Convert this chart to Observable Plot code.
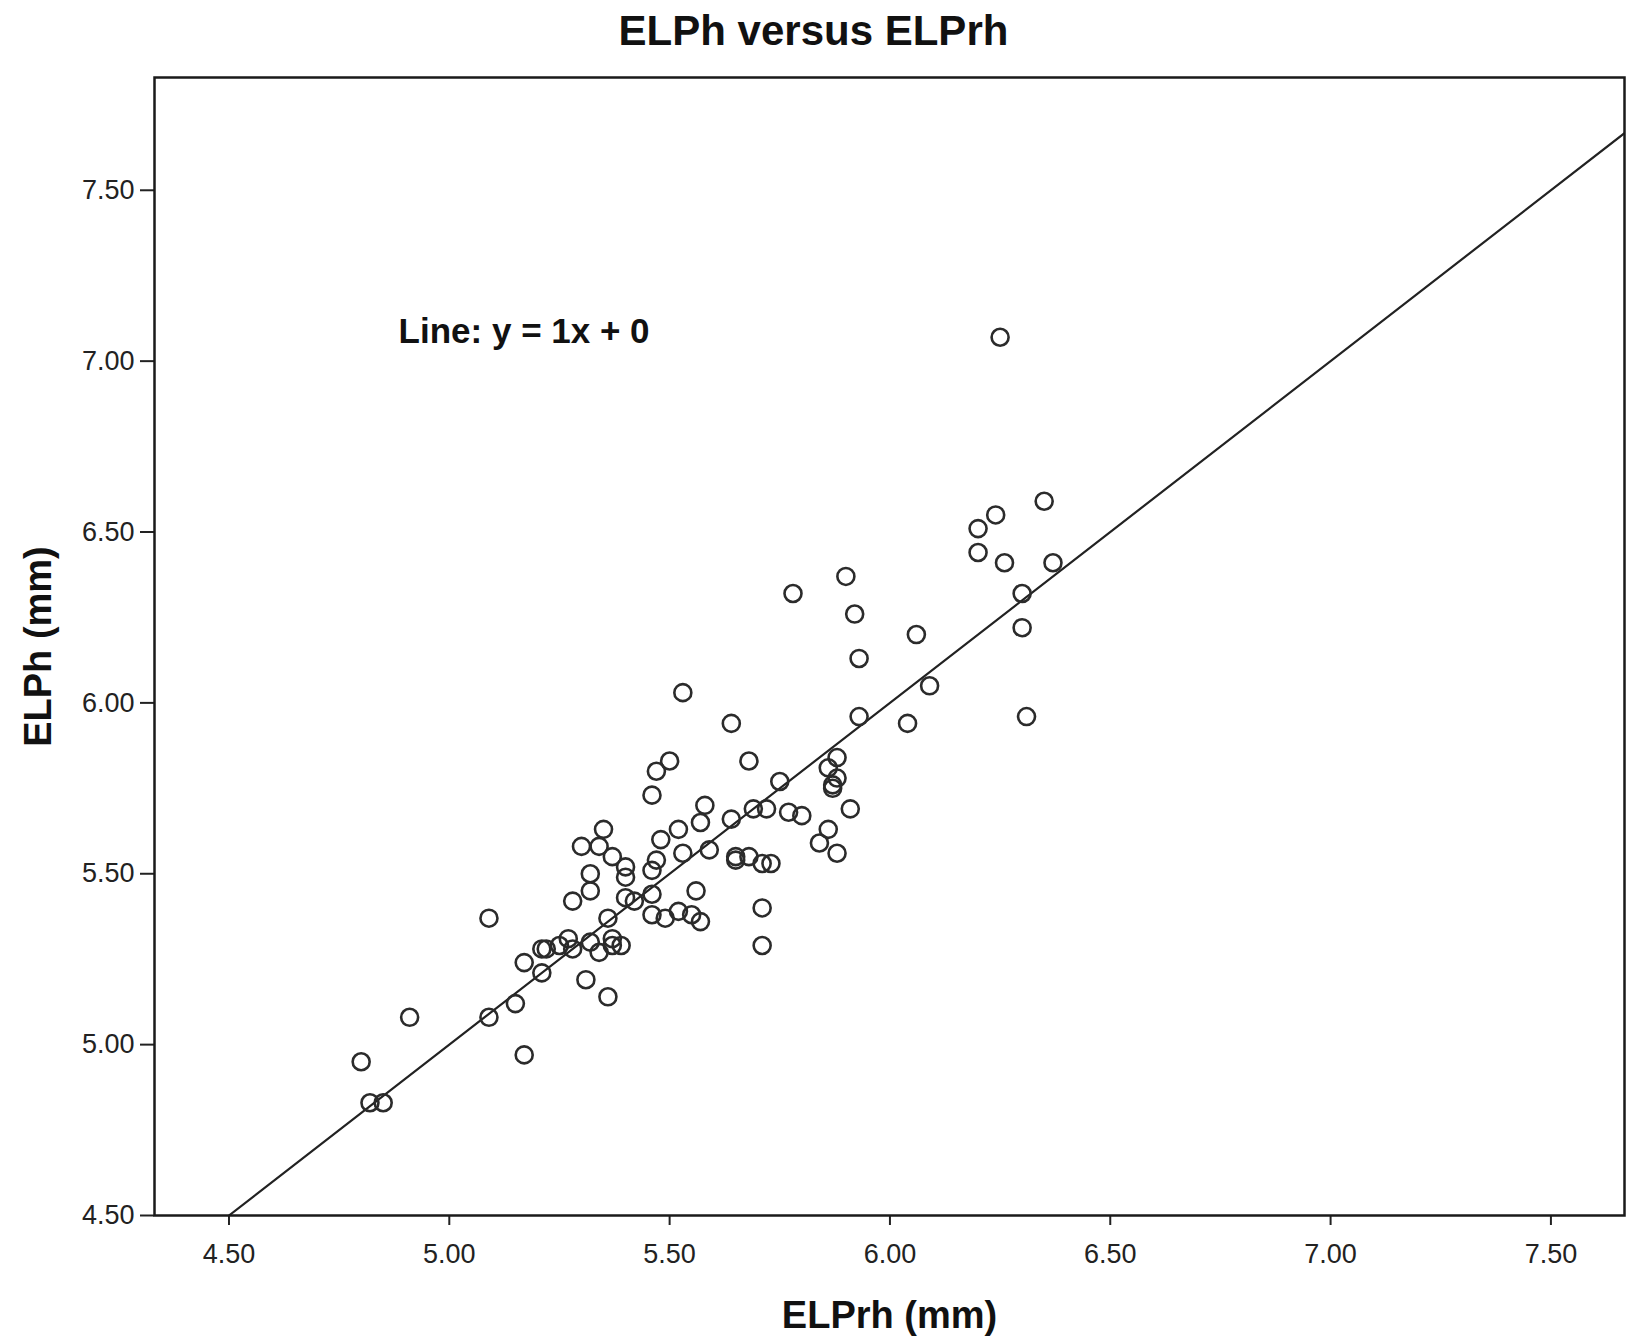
<!DOCTYPE html>
<html>
<head>
<meta charset="utf-8">
<script src="https://cdn.jsdelivr.net/npm/d3@7"></script>
<script src="https://cdn.jsdelivr.net/npm/@observablehq/plot@0.6"></script>
<style>
  html, body { margin: 0; padding: 0; background: #fff; }
  #title { height: 60px; padding-top: 10px; text-align: center; font-family: "Liberation Sans", Arial, sans-serif; font-weight: bold; font-size: 42px; line-height: 42px; color: #111; width: 1627px; }
  #chart svg { display: block; }
</style>
</head>
<body>
<div id="title">ELPh versus ELPrh</div>
<div id="chart"></div>
<script>
const titleText = "ELPh versus ELPrh";
const xLabel = "ELPrh (mm)";
const yLabel = "ELPh (mm)";
const lineLabel = "Line: y = 1x + 0";

// ELPrh (x) values
const elprh = [6.25, 6.35, 6.24, 6.20, 6.20, 6.26, 6.37, 5.90, 5.78, 6.30,
  5.92, 6.30, 6.06, 5.93, 6.09, 5.53, 6.31, 5.93, 5.64, 6.04,
  5.50, 5.68, 5.47, 5.88, 5.86, 5.88, 5.87, 5.87, 5.75, 5.46,
  5.58, 5.69, 5.72, 5.77, 5.80, 5.91, 5.64, 5.57, 5.35, 5.52,
  5.86, 5.48, 5.30, 5.34, 5.84, 5.59, 5.88, 5.37, 5.53, 5.65,
  5.65, 5.68, 5.47, 5.71, 5.73, 5.40, 5.32, 5.46, 5.40, 5.32,
  5.46, 5.56, 5.28, 5.40, 5.42, 5.71, 5.46, 5.52, 5.55, 5.36,
  5.49, 5.57, 5.09, 5.27, 5.37, 5.32, 5.25, 5.37, 5.39, 5.21,
  5.22, 5.28, 5.71, 5.34, 5.17, 5.21, 5.31, 5.36, 5.15, 4.91,
  5.09, 5.17, 4.80, 4.82, 4.85];
// ELPh (y) values
const elph = [7.07, 6.59, 6.55, 6.51, 6.44, 6.41, 6.41, 6.37, 6.32, 6.32,
  6.26, 6.22, 6.20, 6.13, 6.05, 6.03, 5.96, 5.96, 5.94, 5.94,
  5.83, 5.83, 5.80, 5.84, 5.81, 5.78, 5.76, 5.75, 5.77, 5.73,
  5.70, 5.69, 5.69, 5.68, 5.67, 5.69, 5.66, 5.65, 5.63, 5.63,
  5.63, 5.60, 5.58, 5.58, 5.59, 5.57, 5.56, 5.55, 5.56, 5.55,
  5.54, 5.55, 5.54, 5.53, 5.53, 5.52, 5.50, 5.51, 5.49, 5.45,
  5.44, 5.45, 5.42, 5.43, 5.42, 5.40, 5.38, 5.39, 5.38, 5.37,
  5.37, 5.36, 5.37, 5.31, 5.31, 5.30, 5.29, 5.29, 5.29, 5.28,
  5.28, 5.28, 5.29, 5.27, 5.24, 5.21, 5.19, 5.14, 5.12, 5.08,
  5.08, 4.97, 4.95, 4.83, 4.83];

const xTicks = [4.5, 5.0, 5.5, 6.0, 6.5, 7.0, 7.5];
const yTicks = [4.5, 5.0, 5.5, 6.0, 6.5, 7.0, 7.5];
const xDomain = [4.331, 7.667];
const yDomain = [4.5, 7.83];
const slope = 1, intercept = 0;
const annotation = [{x: 4.885, y: 7.085, text: lineLabel}];

const points = elprh.map((x, i) => ({x, y: elph[i]}));
const refLine = [xTicks[0], xDomain[1]].map(x => ({x, y: slope * x + intercept}));

const fmt = d3.format(".2f");
const font = "'Liberation Sans', Arial, sans-serif";

const chart = Plot.plot({
  width: 1627,
  height: 1271,
  marginTop: 7,
  marginBottom: 126,
  marginLeft: 154,
  marginRight: 3,
  style: {fontFamily: font, background: "#fff", color: "#222"},
  x: {domain: xDomain},
  y: {domain: yDomain},
  marks: [
    Plot.line(refLine, {x: "x", y: "y", stroke: "#222", strokeWidth: 2.2, clip: true}),
    Plot.dot(points, {x: "x", y: "y", r: 8.5, stroke: "#2b2b2b", strokeWidth: 2.6, fill: "none"}),
    Plot.text(annotation, {x: "x", y: "y", text: "text", textAnchor: "start", fontSize: 35, fontWeight: "bold", fill: "#111"}),
    Plot.axisX({ticks: xTicks, tickFormat: fmt, tickSize: 10, tickPadding: 18, fontSize: 27, label: null, stroke: "#222", strokeWidth: 2, fill: "#222"}),
    Plot.axisY({ticks: yTicks, tickFormat: fmt, tickSize: 14, tickPadding: 6, fontSize: 27, label: null, stroke: "#222", strokeWidth: 2, fill: "#222"}),
    Plot.text([xLabel], {frameAnchor: "bottom", dy: 100, textAnchor: "middle", lineAnchor: "middle", fontSize: 38, fontWeight: "bold", fill: "#111"}),
    Plot.text([yLabel], {frameAnchor: "left", dx: -116, rotate: -90, textAnchor: "middle", lineAnchor: "middle", fontSize: 38, fontWeight: "bold", fill: "#111"}),
    Plot.frame({stroke: "#1a1a1a", strokeWidth: 2.5})
  ]
});
document.getElementById("chart").appendChild(chart);
</script>
</body>
</html>
